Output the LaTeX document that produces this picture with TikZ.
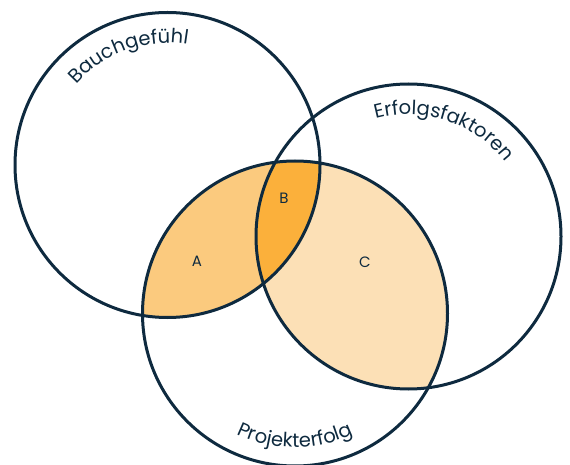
\documentclass[tikz,border=0pt]{standalone}
\usepackage{fontspec}
\setmainfont{Poppins}
\usetikzlibrary{decorations.text}
\definecolor{lineC}{HTML}{0E2A3F}
\definecolor{fillA}{HTML}{FBCA7E}
\definecolor{fillB}{HTML}{FBB03B}
\definecolor{fillC}{HTML}{FCE0B6}
\tikzset{
  ring/.style={draw=lineC, line width=3pt},
  region/.style={font=\fontsize{15}{15}\selectfont, text=lineC},
  arclabel/.style={decorate, decoration={text along path, text align=center,
     text={|\fontsize{19.5}{19}\selectfont\color{lineC}|#1}}}
}
\begin{document}
\begin{tikzpicture}[x=1pt,y=1pt]
\useasboundingbox (0,0) rectangle (570,464);
% centres (y up: y = 464 - y_img)
\coordinate (c1) at (167.5,299);
\coordinate (c2) at (408.5,227.5);
\coordinate (c3) at (295,150.5);
\def\R{152.5}
% A: circle1 ∩ circle3
\begin{scope}
  \clip (c1) circle[radius=\R];
  \fill[fillA] (c3) circle[radius=\R];
\end{scope}
% C: circle2 ∩ circle3
\begin{scope}
  \clip (c2) circle[radius=\R];
  \fill[fillC] (c3) circle[radius=\R];
\end{scope}
% B: all three
\begin{scope}
  \clip (c1) circle[radius=\R];
  \clip (c2) circle[radius=\R];
  \fill[fillB] (c3) circle[radius=\R];
\end{scope}
\node[ring, circle, minimum size=305pt, inner sep=0pt] (k1) at (c1) {};
\node[ring, circle, minimum size=305pt, inner sep=0pt] (k2) at (c2) {};
\node[ring, circle, minimum size=305pt, inner sep=0pt] (k3) at (c3) {};
% curved labels
\path[arclabel=Bauchgefühl] (c1) ++(167:122) arc[start angle=167, end angle=52, radius=122];
\path[arclabel=Erfolgsfaktoren] (c2) ++(131:122) arc[start angle=131, end angle=12, radius=122];
\path[arclabel=Projekterfolg] (c3) ++(220:134) arc[start angle=220, end angle=320, radius=134];
% region labels
\node[region] (la) at (197,203) {A};
\node[region] (lb) at (284,266) {B};
\node[region] (lc) at (365,202) {C};
\end{tikzpicture}
\end{document}
